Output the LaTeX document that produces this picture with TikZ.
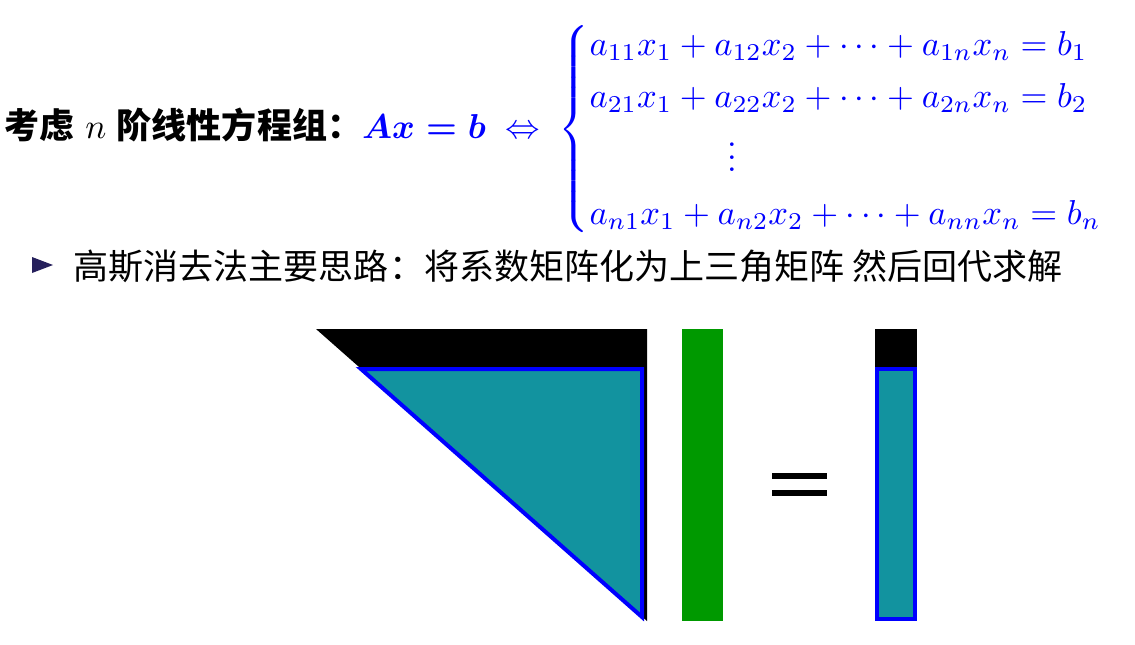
\RequirePackage{fix-cm}
\documentclass[tikz,border=0pt]{standalone}
\usepackage{amsmath}
\usepackage{amssymb}
\usepackage{fontspec}
\newfontfamily\cjk{Noto Sans CJK SC}
\definecolor{tealc}{RGB}{18,147,159}
\definecolor{greenc}{RGB}{0,153,0}
\definecolor{bulletc}{RGB}{38,32,92}

\begin{document}
\begin{tikzpicture}[x=0.3125pt,y=-0.3125pt,
	txt/.style={inner sep=0pt,anchor=base west,font=\fontsize{10.95}{13.6}\selectfont},
	upper/.style={draw=blue,line width=1.25pt,fill=tealc}]
	\useasboundingbox (0,0) rectangle (1135,644);
	\node[txt] (sys) at (4,138) {{\cjk\bfseries 考虑}\hspace{3.3pt}$n$\hspace{3.3pt}{\cjk\bfseries 阶线性方程组：}\fontsize{10.8}{13.6}\selectfont\color{blue}$\boldsymbol{Ax=b}\;\Leftrightarrow\;
		\begin{cases}
			a_{11}x_1+a_{12}x_2+\cdots+a_{1n}x_n=b_1\\
			a_{21}x_1+a_{22}x_2+\cdots+a_{2n}x_n=b_2\\
			\qquad\qquad\vdots\\
			a_{n1}x_1+a_{n2}x_2+\cdots+a_{nn}x_n=b_n
		\end{cases}$};
	\fill[bulletc] (32,257) -- (53,265) -- (32,273) -- cycle;
	\node[txt] (idea) at (73,279) {\cjk 高斯消去法主要思路：将系数矩阵化为上三角矩阵 然后回代求解};
	
	\fill (316,329) -- (647,329) -- (647,621) -- cycle;
	\draw[upper] (361,369) -- (642,369) -- (642,617) -- cycle;
	\fill[greenc] (682,329) rectangle (723,621);
	\fill (772,473) rectangle (827,479);
	\fill (772,490) rectangle (827,496);
	\fill (875,329) rectangle (917,367);
	\draw[upper] (877,369) rectangle (915,619);
\end{tikzpicture}
\end{document}
